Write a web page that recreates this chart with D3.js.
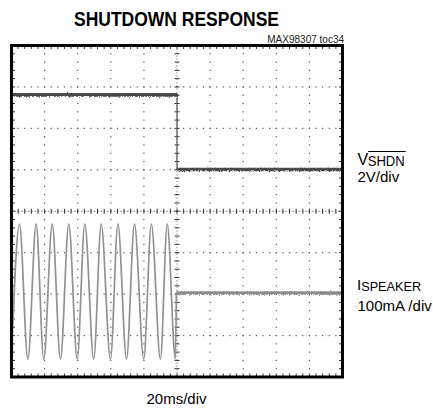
<!DOCTYPE html>
<html>
<head>
<meta charset="utf-8">
<script src="https://cdn.jsdelivr.net/npm/d3@7/dist/d3.min.js"></script>
<style>
  body { margin: 0; background: #fff; }
  svg { display: block; font-family: "Liberation Sans", Arial, sans-serif; }
</style>
</head>
<body>
<script>
// Scope capture: shutdown response of the amplifier (20 ms/div sweep)
const chartTitle = "SHUTDOWN RESPONSE";
const partLabel = "MAX98307 toc34";
const sweepLabel = "20ms/div";

// Channel 1: shutdown pin voltage (V), 2 V/div
const vshdnTimes = [0, 100, 100, 200];
const vshdnVolts = [3.6, 3.6, 0, 0];

// Channel 2: speaker current (mA), 100 mA/div — peaks and troughs of the 100 Hz tone
const ispkTimes = [0, 4.8, 9.9, 14.9, 19.5, 24.6, 29.6, 34.6, 39.7, 44.3, 49.7,
                   54.2, 59.8, 64.3, 69.5, 74.3, 79.9, 84.5, 90.0, 94.1, 99.0, 99.6, 200];
const ispkMilliamps = [-161, 165, -161, 165, -161, 165, -161, 165, -161, 165, -161,
                       165, -161, 165, -161, 165, -161, 165, -161, 165, -161, 0, 0];

const W = 433, H = 411;
const svg = d3.select("body").append("svg").attr("width", W).attr("height", H);

// Screen: 10 horizontal x 8 vertical divisions
const x = d3.scaleLinear().domain([0, 200]).range([11.5, 342.5]);
const y = d3.scaleLinear().domain([-4, 4]).range([377, 45.5]);

// channel scaling / ground markers (in divisions)
const V_PER_DIV = 2, V_GND = 1.02;
const MA_PER_DIV = 100, I_GND = -1.96;
const vY = v => y(V_GND + v / V_PER_DIV);
const iY = i => y(I_GND + i / MA_PER_DIV);

// trace noise: small displacement of the stroke edges
const defs = svg.append("defs");
const jitter = defs.append("filter").attr("id", "jitter")
  .attr("filterUnits", "userSpaceOnUse")
  .attr("x", 0).attr("y", 0).attr("width", W).attr("height", H);
jitter.append("feTurbulence").attr("type", "turbulence")
  .attr("baseFrequency", "0.7 0.5").attr("numOctaves", 2).attr("seed", 4).attr("result", "t");
jitter.append("feDisplacementMap").attr("in", "SourceGraphic").attr("in2", "t")
  .attr("scale", 3).attr("xChannelSelector", "R").attr("yChannelSelector", "G");

const grid = svg.append("g");
const minorX = d3.range(1, 50).map(k => k * 4);      // 4 ms minor steps
const minorY = d3.range(1, 40).map(k => -4 + k * 0.2); // 0.2 div minor steps

// dotted vertical grid lines
[20, 40, 60, 80, 120, 140, 160, 180].forEach(t => {
  grid.selectAll(null).data(minorY).join("rect")
    .attr("x", x(t) - 0.6).attr("y", d => y(d) - 0.6)
    .attr("width", 1.2).attr("height", 1.2).attr("fill", "#555");
});
// dotted horizontal grid lines
[-3, -2, -1, 1, 2, 3].forEach(dv => {
  grid.selectAll(null).data(minorX).join("rect")
    .attr("x", d => x(d) - 0.6).attr("y", y(dv) - 0.6)
    .attr("width", 1.2).attr("height", 1.2).attr("fill", "#555");
});

// center cross with minor ticks
grid.append("line").attr("x1", x(0)).attr("x2", x(200)).attr("y1", y(0)).attr("y2", y(0))
  .attr("stroke", "#666").attr("stroke-width", 0.9).attr("stroke-dasharray", "1.5,1.8");
grid.append("line").attr("x1", x(100)).attr("x2", x(100)).attr("y1", y(-4)).attr("y2", y(4))
  .attr("stroke", "#777").attr("stroke-width", 0.8).attr("stroke-dasharray", "1.5,1.8");
grid.selectAll(null).data(minorX).join("line")
  .attr("x1", d => x(d)).attr("x2", d => x(d))
  .attr("y1", y(0) - 2.5).attr("y2", y(0) + 2.5)
  .attr("stroke", "#333").attr("stroke-width", 1);
grid.selectAll(null).data(minorY).join("line")
  .attr("y1", d => y(d)).attr("y2", d => y(d))
  .attr("x1", x(100) - 2.5).attr("x2", x(100) + 2.5)
  .attr("stroke", "#333").attr("stroke-width", 1);

// minor ticks on the screen border
grid.selectAll(null).data(minorX).join("line")
  .attr("x1", d => x(d)).attr("x2", d => x(d)).attr("y1", y(4)).attr("y2", y(4) + 3.5)
  .attr("stroke", "#333").attr("stroke-width", 1);
grid.selectAll(null).data(minorX).join("line")
  .attr("x1", d => x(d)).attr("x2", d => x(d)).attr("y1", y(-4)).attr("y2", y(-4) - 3.5)
  .attr("stroke", "#333").attr("stroke-width", 1);
grid.selectAll(null).data(minorY).join("line")
  .attr("y1", d => y(d)).attr("y2", d => y(d)).attr("x1", x(0)).attr("x2", x(0) + 3.5)
  .attr("stroke", "#333").attr("stroke-width", 1);
grid.selectAll(null).data(minorY).join("line")
  .attr("y1", d => y(d)).attr("y2", d => y(d)).attr("x1", x(200)).attr("x2", x(200) - 3.5)
  .attr("stroke", "#333").attr("stroke-width", 1);

// ---- traces ----
const iPts = ispkTimes.map((t, k) => ({ t, v: ispkMilliamps[k] }));
const iLine = d3.line().x(d => x(d.t)).y(d => iY(d.v)).curve(d3.curveMonotoneX);
const cut = ispkTimes.indexOf(99.6);
svg.append("path").datum(iPts.slice(0, cut + 1)).attr("d", iLine)
  .attr("fill", "none").attr("stroke", "#929292").attr("stroke-width", 1.7);
const iFlat = d3.line().x(d => x(d.t)).y(d => iY(d.v));
svg.append("path").datum(iPts.slice(cut)).attr("d", iFlat)
  .attr("fill", "none").attr("stroke", "#969696").attr("stroke-width", 2.4);
svg.append("path").datum(iPts.slice(cut)).attr("d", iFlat)
  .attr("fill", "none").attr("stroke", "#8a8a8a").attr("stroke-width", 2.4)
  .attr("filter", "url(#jitter)");

const vPts = vshdnTimes.map((t, k) => ({ t, v: vshdnVolts[k] }));
const vLine = d3.line().x(d => x(d.t)).y(d => vY(d.v));
svg.append("path").datum(vPts).attr("d", vLine)
  .attr("fill", "none").attr("stroke", "#555").attr("stroke-width", 1.2);
[[0, 1], [2, 3]].forEach(([a, b]) => {
  svg.append("path").datum([vPts[a], vPts[b]]).attr("d", vLine)
    .attr("fill", "none").attr("stroke", "#555").attr("stroke-width", 2.6);
  svg.append("path").datum([vPts[a], vPts[b]]).attr("d", vLine)
    .attr("fill", "none").attr("stroke", "#444").attr("stroke-width", 2.6)
    .attr("filter", "url(#jitter)");
});

// screen border
svg.append("rect").attr("x", x(0)).attr("y", y(4))
  .attr("width", x(200) - x(0)).attr("height", y(-4) - y(4))
  .attr("fill", "none").attr("stroke", "#000").attr("stroke-width", 3);

// ---- text ----
svg.append("text").attr("x", 176.5).attr("y", 26).attr("text-anchor", "middle")
  .attr("font-size", 20).attr("font-weight", "bold")
  .attr("textLength", 205).attr("lengthAdjust", "spacingAndGlyphs").text(chartTitle);
svg.append("text").attr("x", 344).attr("y", 42.5).attr("text-anchor", "end")
  .attr("font-size", 10).attr("fill", "#222").text(partLabel);
svg.append("text").attr("x", 176.5).attr("y", 404).attr("text-anchor", "middle")
  .attr("font-size", 15).text(sweepLabel);

// channel labels
const vMain = svg.append("text").attr("x", 357.5).attr("y", 165).attr("font-size", 16).text("V");
const vw = vMain.node().getComputedTextLength();
svg.append("text").attr("x", 357.5 + vw - 0.5).attr("y", 166).attr("font-size", 14)
  .attr("textLength", 37).attr("lengthAdjust", "spacingAndGlyphs").text("SHDN");
svg.append("line").attr("x1", 357.5 + vw).attr("x2", 357.5 + vw + 37.5)
  .attr("y1", 151.5).attr("y2", 151.5).attr("stroke", "#000").attr("stroke-width", 1);
svg.append("text").attr("x", 357.5).attr("y", 182).attr("font-size", 15).text("2V/div");

const iMain = svg.append("text").attr("x", 357).attr("y", 290).attr("font-size", 15).text("I");
const iw = iMain.node().getComputedTextLength();
svg.append("text").attr("x", 357 + iw).attr("y", 290.5).attr("font-size", 13)
  .attr("textLength", 60).attr("lengthAdjust", "spacingAndGlyphs").text("SPEAKER");
svg.append("text").attr("x", 357.5).attr("y", 310.5).attr("font-size", 15).text("100mA /div");
</script>
</body>
</html>
